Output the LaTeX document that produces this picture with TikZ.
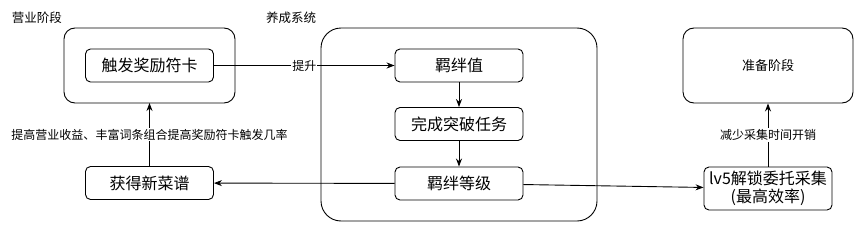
\documentclass[tikz,border=0pt]{standalone}
\usepackage{fontspec}
\setmainfont{Noto Sans CJK SC}
\usetikzlibrary{arrows.meta}
\begin{document}
\begin{tikzpicture}[x=1pt,y=-1pt,
  inbox/.style={draw,line width=0.9pt,rounded corners=5pt,minimum width=128pt,minimum height=33pt,font=\fontsize{16}{18}\selectfont,inner sep=0pt,align=center},
  outbox/.style={draw,line width=0.9pt,rounded corners=11pt},
  lbl/.style={font=\fontsize{12.5}{14}\selectfont,inner sep=1pt},
  elbl/.style={font=\fontsize{12}{13}\selectfont,fill=white,inner sep=1pt},
  arr/.style={-{Stealth[length=8pt,width=6pt]},line width=0.9pt}]
\useasboundingbox (0,0) rectangle (865,233);
\fill[white] (0,0) rectangle (865,233);
% outer boxes
\draw[outbox] (64,28) rectangle (235,103);
\draw[outbox,rounded corners=20pt] (321,28) rectangle (597,221);
\node[outbox,minimum width=170pt,minimum height=75pt,font=\fontsize{13}{15}\selectfont] (prep) at (768,65.5) {准备阶段};
\coordinate (leftbot) at (149.5,103);
% labels
\node[lbl] (t1) at (37,18) {营业阶段};
\node[lbl] (t2) at (291,18) {养成系统};
% inner boxes
\node[inbox] (card) at (149.5,65.5) {触发奖励符卡};
\node[inbox] (recipe) at (149.5,183) {获得新菜谱};
\node[inbox] (bval) at (459,65.5) {羁绊值};
\node[inbox] (task) at (459,124) {完成突破任务};
\node[inbox] (blvl) at (459,183.5) {羁绊等级};
\node[inbox,minimum height=43pt,text width=124pt,font=\fontsize{16}{18}\selectfont] (lv5) at (768,188.5) {lv5解锁委托采集\\(最高效率)};
% connectors
\draw[arr] (card) -- node[elbl,pos=0.5] (l1) {提升} (bval);
\draw[arr] (bval) -- (task);
\draw[arr] (task) -- (blvl);
\draw[arr] (blvl) -- (recipe);
\draw[arr] (blvl) -- (lv5);
\draw[arr] (recipe) -- node[elbl] (l2) {提高营业收益、丰富词条组合提高奖励符卡触发几率} (leftbot);
\draw[arr] (lv5) -- node[elbl] (l3) {减少采集时间开销} (prep);
\end{tikzpicture}
\end{document}
